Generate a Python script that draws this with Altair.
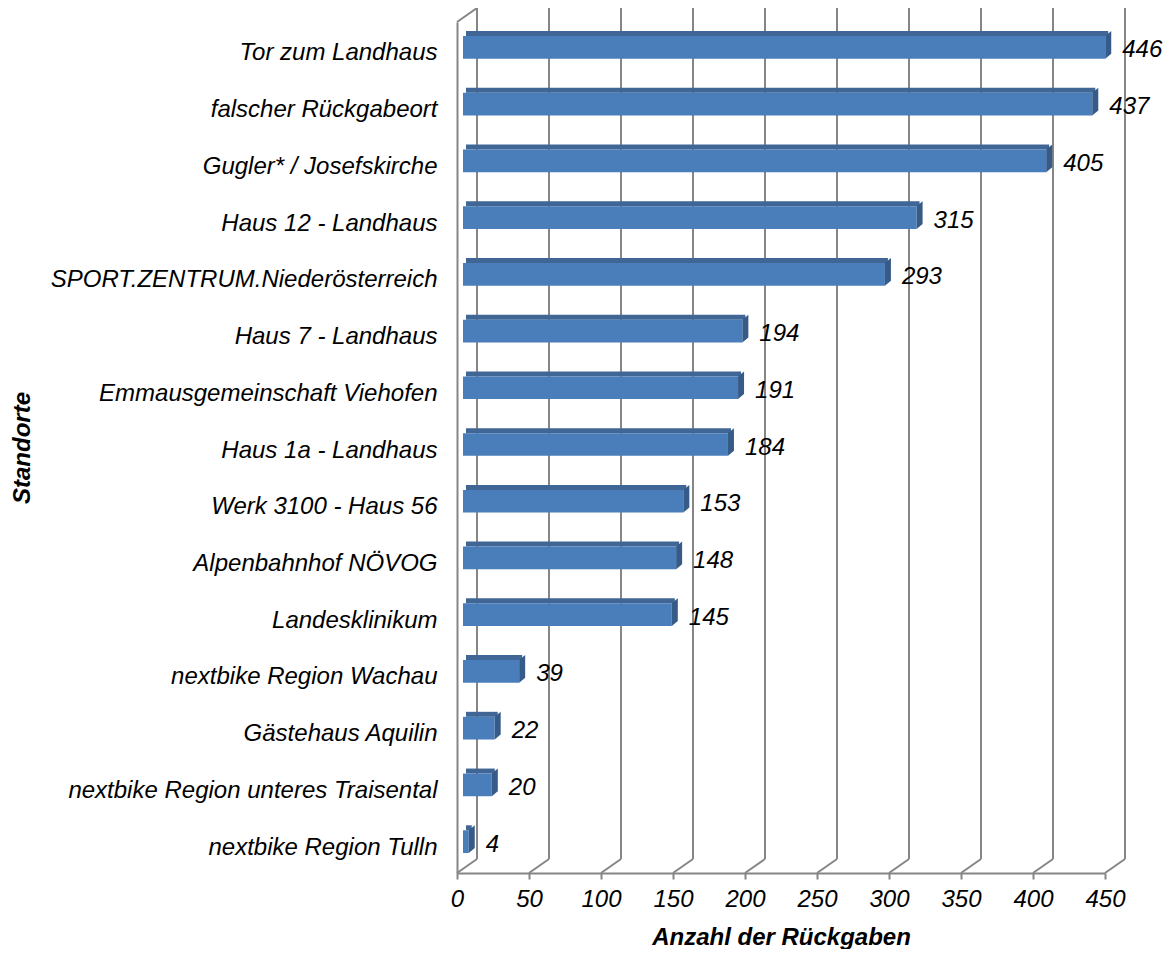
import altair as alt
import pandas as pd

categories = [
    "Tor zum Landhaus",
    "falscher Rückgabeort",
    "Gugler* / Josefskirche",
    "Haus 12 - Landhaus",
    "SPORT.ZENTRUM.Niederösterreich",
    "Haus 7 - Landhaus",
    "Emmausgemeinschaft Viehofen",
    "Haus 1a - Landhaus",
    "Werk 3100 - Haus 56",
    "Alpenbahnhof NÖVOG",
    "Landesklinikum",
    "nextbike Region Wachau",
    "Gästehaus Aquilin",
    "nextbike Region unteres Traisental",
    "nextbike Region Tulln",
]
values = [446, 437, 405, 315, 293, 194, 191, 184, 153, 148, 145, 39, 22, 20, 4]
x_ticks = [0, 50, 100, 150, 200, 250, 300, 350, 400, 450]

W, H = 648, 851
DX, DY = 20, -14
FONT = "Liberation Sans"
GRID = "#868686"
FRONT = "#4A7EBB"
TOP = "#3F6695"
SIDE = "#375B88"

df = pd.DataFrame({"Standort": categories, "Anzahl": values})
ticks = pd.DataFrame({"t": x_ticks})
corner = pd.DataFrame({"t": [0]})

xscale = alt.Scale(domain=[0, 450], nice=False, zero=True)
yscale = alt.Scale(domain=categories, paddingInner=0.6, paddingOuter=0.3)

x_axis = alt.Axis(
    values=x_ticks, title="Anzahl der Rückgaben",
    titleFont=FONT, titleFontSize=24, titleFontWeight="bold",
    titleFontStyle="italic", titleColor="black",
    titleX=W / 2, titleY=64, titleBaseline="middle", titleAlign="center",
    labelFont=FONT, labelFontSize=24, labelFontStyle="italic",
    labelColor="black", labelPadding=8, labelFlush=False,
    labelOverlap=False, tickColor=GRID, tickSize=6, tickWidth=2,
    domainColor=GRID, domainWidth=2, grid=False,
)
y_axis = alt.Axis(
    title="Standorte", titleFont=FONT, titleFontSize=24,
    titleFontWeight="bold", titleFontStyle="italic", titleColor="black",
    titleAngle=270, titleX=-435, titleY=H / 2, titleBaseline="middle",
    titleAlign="center",
    labelFont=FONT, labelFontSize=24, labelFontStyle="italic",
    labelColor="black", labelPadding=20, labelLimit=600, labelOffset=3,
    ticks=False, domainColor=GRID, domainWidth=2, grid=False,
)

X_T = alt.X("t:Q", scale=xscale, axis=x_axis, title="Anzahl der Rückgaben")
X_V = alt.X("Anzahl:Q", scale=xscale, axis=x_axis, title="Anzahl der Rückgaben")
Y_C = alt.Y("Standort:N", scale=yscale, sort=categories, axis=y_axis, title="Standorte")

# back wall gridlines
back_grid = alt.Chart(ticks).mark_rule(color=GRID, strokeWidth=2, xOffset=DX).encode(
    x=X_T,
    y=alt.value(DY),
    y2=alt.value(H + DY),
)

diag_shape = "M-1,0.7L1,-0.7"
floor_diag = alt.Chart(ticks).mark_point(
    shape=diag_shape, size=400, filled=False, stroke=GRID, strokeWidth=2,
    opacity=1, xOffset=DX / 2, yOffset=DY / 2,
).encode(
    x=X_T,
    y=alt.value(H),
)
top_diag = alt.Chart(corner).mark_point(
    shape=diag_shape, size=400, filled=False, stroke=GRID, strokeWidth=2,
    opacity=1, xOffset=DX / 2, yOffset=DY / 2,
).encode(
    x=X_T,
    y=alt.value(0),
)

# top face of each bar (thin strip behind the front face)
bar_top = alt.Chart(df).mark_bar(
    color=TOP, size=5, xOffset=9, x2Offset=12, yOffset=-16.85
).encode(x=X_V, y=Y_C)

bar_front = alt.Chart(df).mark_bar(
    color=FRONT, xOffset=6, x2Offset=6, yOffset=-3, y2Offset=-3
).encode(x=X_V, y=Y_C)

# side face: a fixed-size parallelogram at the end of each bar (size 4 -> 1 unit = 1px)
side_shape = "M6,-14.35L12,-19.35L12,3.35L6,8.35Z"
bar_side = alt.Chart(df).mark_point(
    shape=side_shape, size=4, filled=True, color=SIDE, opacity=1, strokeWidth=0
).encode(x=X_V, y=Y_C)

labels = alt.Chart(df).mark_text(
    align="left", baseline="middle", dx=23, dy=0,
    font=FONT, fontSize=24, fontStyle="italic", color="black",
).encode(
    x=X_V,
    y=Y_C,
    text=alt.Text("Anzahl:Q"),
)

chart = alt.layer(
    back_grid, floor_diag, top_diag, bar_top, bar_front, bar_side, labels
).properties(
    width=W, height=H,
    autosize=alt.AutoSizeParams(type="none"),
    padding={"left": 449, "top": 14, "right": 61, "bottom": 76},
).configure(
    background="white",
    view=alt.ViewConfig(strokeWidth=0, stroke=None),
)

chart.save("out.html", embed_options={"renderer": "svg", "actions": False})
